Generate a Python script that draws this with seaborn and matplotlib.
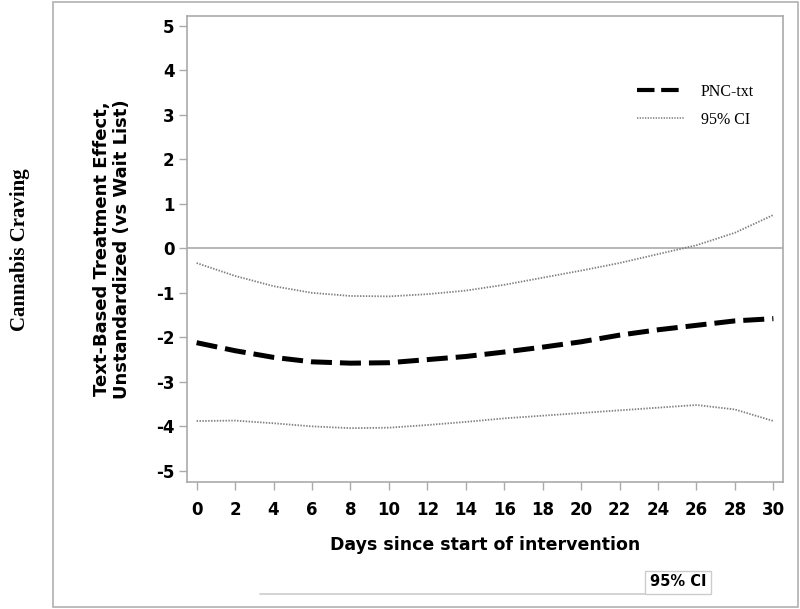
import matplotlib
matplotlib.use('Agg')
import matplotlib.pyplot as plt
import seaborn as sns
import pandas as pd
from matplotlib.patches import Rectangle
from matplotlib.lines import Line2D

# values
days = [0, 2, 4, 6, 8, 10, 12, 14, 16, 18, 20, 22, 24, 26, 28, 30]
effect = [-2.12, -2.30, -2.45, -2.55, -2.58, -2.57, -2.50, -2.43,
          -2.33, -2.22, -2.10, -1.95, -1.83, -1.73, -1.63, -1.58]
ci_upper = [-0.33, -0.62, -0.85, -1.00, -1.07, -1.08, -1.03, -0.95,
            -0.82, -0.66, -0.50, -0.33, -0.13, 0.07, 0.35, 0.75]
ci_lower = [-3.88, -3.87, -3.93, -4.00, -4.04, -4.03, -3.97, -3.90,
            -3.82, -3.76, -3.70, -3.64, -3.58, -3.52, -3.62, -3.88]
x_ticks = list(range(0, 31, 2))
y_ticks = list(range(-5, 6))

df = pd.DataFrame({'day': days, 'effect': effect, 'upper': ci_upper, 'lower': ci_lower})

sns.set_style('white')
plt.rcParams['font.family'] = ['DejaVu Sans']
plt.rcParams['axes.unicode_minus'] = False
plt.rcParams['text.color'] = 'black'
plt.rcParams['xtick.color'] = 'black'
plt.rcParams['ytick.color'] = 'black'

fig = plt.figure(figsize=(8, 6.09), dpi=100)
ax = fig.add_axes([187 / 800, 1 - 482 / 609, 596 / 800, 466 / 609])

ax.axhline(0, color='#aaaaaa', linewidth=1.2, zorder=1)
sns.lineplot(data=df, x='day', y='upper', ax=ax, color='#808080', linewidth=1.3,
             linestyle=(0, (0.8, 0.8)))
sns.lineplot(data=df, x='day', y='lower', ax=ax, color='#808080', linewidth=1.3,
             linestyle=(0, (0.8, 0.8)))
sns.lineplot(data=df, x='day', y='effect', ax=ax, color='black', linewidth=3.6,
             linestyle=(0, (4.2, 1.6)))

ax.set_xlim(-0.5, 30.5)
ax.set_ylim(-5.25, 5.22)
ax.set_xticks(x_ticks)
ax.set_yticks(y_ticks)
ax.set_xlabel('')
ax.set_ylabel('')
for s in ax.spines.values():
    s.set_color('#aaaaaa')
    s.set_linewidth(1.2)
ax.tick_params(axis='both', direction='out', length=6, width=1, color='#aaaaaa',
               labelcolor='black', labelsize=12, pad=3, left=True, bottom=True)
ax.tick_params(axis='x', pad=8)
for lab in ax.get_xticklabels() + ax.get_yticklabels():
    lab.set_fontweight('bold')

handles = [Line2D([], [], color='black', linewidth=3, linestyle=(0, (4.2, 1.6))),
           Line2D([], [], color='#808080', linewidth=1.2, linestyle=(0, (0.8, 0.8)))]
leg = ax.legend(handles, ['PNC-txt', '95% CI'], loc='upper right',
                bbox_to_anchor=(0.975, 0.885), frameon=False, handlelength=3.0,
                labelspacing=0.75, handletextpad=1.0,
                prop={'family': 'Liberation Serif', 'size': 11.5})

fig.text(485 / 800, 1 - 545 / 609, 'Days since start of intervention', ha='center', va='center',
         fontsize=12.5, fontweight='bold')
fig.text(112 / 800, 1 - 249 / 609, 'Text-Based Treatment Effect,\nUnstandardized (vs Wait List)',
         ha='center', va='center', rotation=90, fontsize=13, fontweight='bold',
         multialignment='center', linespacing=1.1)
fig.text(20 / 800, 1 - 250 / 609, 'Cannabis Craving', ha='center', va='center', rotation=90,
         fontsize=15, fontweight='bold', family='Liberation Serif')

# outer frame and the clipped caption at the bottom
fig.patches.append(Rectangle((53 / 800, 1 - 607 / 609), 745 / 800, 605 / 609,
                             transform=fig.transFigure, fill=False, edgecolor='#b0b0b0',
                             linewidth=1.2))
fig.lines.append(Line2D([260 / 800, 645 / 800], [1 - 594 / 609, 1 - 594 / 609],
                        transform=fig.transFigure, color='#cccccc', linewidth=1.2))
fig.patches.append(Rectangle((645 / 800, 1 - 594 / 609), 66 / 800, 23 / 609,
                             transform=fig.transFigure, fill=False, edgecolor='#cccccc',
                             linewidth=1))
fig.text(678 / 800, 1 - 582 / 609, '95% CI', ha='center', va='center', fontsize=10.5,
         fontweight='bold')

plt.savefig('out.png', dpi=100)
plt.close()
